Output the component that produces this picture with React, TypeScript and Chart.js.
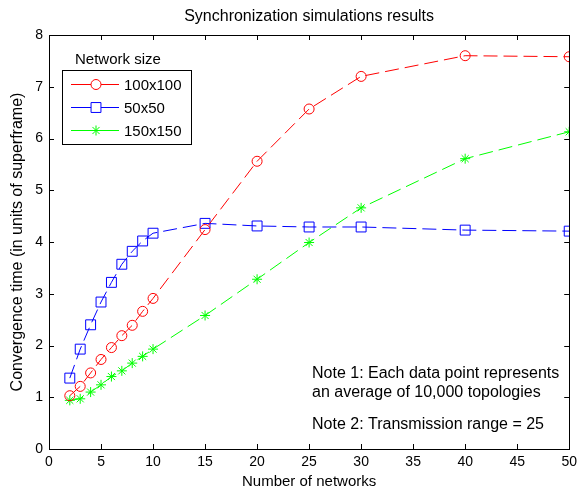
import React, { useEffect, useRef } from "react";
import { Chart, registerables } from "chart.js";

Chart.register(...registerables);

const titleText = "Synchronization simulations results";
const xTitle = "Number of networks";
const yTitle = "Convergence time (in units of superframe)";
const legendTitle = "Network size";
const note1Lines = ["Note 1: Each data point represents", "an average of 10,000 topologies"];
const note2Lines = ["Note 2: Transmission range = 25"];

const networks = [2, 3, 4, 5, 6, 7, 8, 9, 10, 15, 20, 25, 30, 40, 50];
const series100 = [1.03, 1.21, 1.47, 1.73, 1.96, 2.19, 2.39, 2.66, 2.91, 4.24, 5.56, 6.57, 7.2, 7.6, 7.58];
const series50 = [1.37, 1.93, 2.4, 2.84, 3.22, 3.57, 3.82, 4.02, 4.17, 4.36, 4.31, 4.29, 4.29, 4.23, 4.21];
const series150 = [0.94, 0.97, 1.1, 1.24, 1.4, 1.51, 1.66, 1.79, 1.93, 2.58, 3.28, 3.99, 4.66, 5.61, 6.13];
const seriesLabels = ["100x100", "50x50", "150x150"];
const seriesColors = ["#ff0000", "#0000ff", "#00ff00"];
const seriesMarkers = ["circle", "rect", "star"];

const FONT = "'Liberation Sans', Arial, sans-serif";

function drawMarker(ctx: any, style: string, x: number, y: number, r: number, color: string) {
  ctx.save();
  ctx.strokeStyle = color;
  ctx.lineWidth = 1;
  ctx.beginPath();
  if (style === "circle") {
    ctx.arc(x, y, r, 0, Math.PI * 2);
    ctx.fillStyle = "#fff";
    ctx.fill();
    ctx.stroke();
  } else if (style === "rect") {
    const s = Math.SQRT1_2 * r;
    ctx.rect(x - s, y - s, 2 * s, 2 * s);
    ctx.fillStyle = "#fff";
    ctx.fill();
    ctx.stroke();
  } else {
    ctx.moveTo(x - r, y);
    ctx.lineTo(x + r, y);
    ctx.moveTo(x, y - r);
    ctx.lineTo(x, y + r);
    const d = r * Math.SQRT1_2;
    ctx.moveTo(x - d, y - d);
    ctx.lineTo(x + d, y + d);
    ctx.moveTo(x - d, y + d);
    ctx.lineTo(x + d, y - d);
    ctx.stroke();
  }
  ctx.restore();
}

const framePlugin = {
  id: "matlabFrame",
  afterDraw(chart: any) {
    const { ctx, chartArea } = chart;
    const { left, right, top, bottom } = chartArea;
    const xs = chart.scales.x;
    const ys = chart.scales.y;
    ctx.save();
    ctx.strokeStyle = "#000";
    ctx.lineWidth = 1;
    ctx.strokeRect(Math.round(left) + 0.5, Math.round(top) + 0.5, Math.round(right - left), Math.round(bottom - top));
    const tl = 5;
    ctx.beginPath();
    xs.ticks.forEach((t: any) => {
      const px = Math.round(xs.getPixelForValue(t.value)) + 0.5;
      ctx.moveTo(px, bottom);
      ctx.lineTo(px, bottom - tl);
      ctx.moveTo(px, top);
      ctx.lineTo(px, top + tl);
    });
    ys.ticks.forEach((t: any) => {
      const py = Math.round(ys.getPixelForValue(t.value)) + 0.5;
      ctx.moveTo(left, py);
      ctx.lineTo(left + tl, py);
      ctx.moveTo(right, py);
      ctx.lineTo(right - tl, py);
    });
    ctx.stroke();

    // title
    ctx.fillStyle = "#000";
    ctx.font = `16px ${FONT}`;
    ctx.textAlign = "center";
    ctx.textBaseline = "middle";
    ctx.fillText(titleText, (left + right) / 2, 17);

    // legend
    const lx = left + 13;
    const ly = top + 35;
    const lw = 129;
    const lh = 74;
    ctx.font = `15px ${FONT}`;
    ctx.textAlign = "left";
    ctx.fillText(legendTitle, lx + 13, ly - 10);
    ctx.fillStyle = "#fff";
    ctx.fillRect(lx, ly, lw, lh);
    ctx.strokeStyle = "#000";
    ctx.strokeRect(lx + 0.5, ly + 0.5, lw, lh);
    chart.data.datasets.forEach((ds: any, i: number) => {
      const ry = Math.round(ly + 13.5 + i * 23) + 0.5;
      ctx.strokeStyle = ds.borderColor;
      ctx.lineWidth = 1;
      ctx.setLineDash([]);
      ctx.beginPath();
      ctx.moveTo(lx + 9, ry);
      ctx.lineTo(lx + 57, ry);
      ctx.stroke();
      drawMarker(ctx, ds.pointStyle, lx + 34, ry, ds.pointRadius, ds.borderColor);
      ctx.fillStyle = "#000";
      ctx.font = `15px ${FONT}`;
      ctx.textBaseline = "middle";
      ctx.fillText(ds.label, lx + 62, ry + 1);
    });

    // notes
    ctx.fillStyle = "#000";
    ctx.font = `16px ${FONT}`;
    ctx.textAlign = "left";
    ctx.textBaseline = "middle";
    note1Lines.forEach((n, i) => ctx.fillText(n, 312, 374 + i * 19));
    note2Lines.forEach((n, i) => ctx.fillText(n, 312, 425 + i * 19));
    ctx.restore();
  },
};

export default function App() {
  const ref = useRef<HTMLCanvasElement | null>(null);
  useEffect(() => {
    if (!ref.current) return;
    const allSeries = [series100, series50, series150];
    const radii = [5, 7, 5];
    const chart = new Chart(ref.current, {
      type: "line",
      data: {
        datasets: allSeries.map((s, i) => ({
          label: seriesLabels[i],
          data: networks.map((n, j) => ({ x: n, y: s[j] })),
          borderColor: seriesColors[i],
          backgroundColor: "transparent",
          pointBorderColor: seriesColors[i],
          pointBackgroundColor: i === 2 ? seriesColors[i] : "transparent",
          pointStyle: seriesMarkers[i] as any,
          pointRadius: radii[i],
          pointBorderWidth: 1,
          borderWidth: 1,
          borderDash: [14, 6],
          tension: 0,
          fill: false,
        })),
      },
      options: {
        responsive: false,
        animation: false,
        devicePixelRatio: 1,
        layout: { padding: { top: 35, right: 8, left: 0, bottom: 0 } },
        plugins: {
          legend: { display: false },
          title: { display: false },
          tooltip: { enabled: false },
        },
        scales: {
          x: {
            type: "linear",
            min: 0,
            max: 50,
            ticks: { stepSize: 5, color: "#000", font: { size: 14, family: FONT }, padding: 5, maxRotation: 0 },
            grid: { display: false, drawTicks: false },
            border: { display: false },
            title: { display: true, text: xTitle, color: "#000", font: { size: 15, family: FONT }, padding: { top: 0, bottom: 1 } },
            afterFit: (s: any) => {
              s.height = 43;
            },
          },
          y: {
            type: "linear",
            min: 0,
            max: 8,
            ticks: { stepSize: 1, color: "#000", font: { size: 14, family: FONT }, padding: 6 },
            grid: { display: false, drawTicks: false },
            border: { display: false },
            title: { display: true, text: yTitle, color: "#000", font: { size: 16, family: FONT }, padding: { top: 8, bottom: 0 } },
            afterFit: (s: any) => {
              s.width = 49;
            },
          },
        },
      },
      plugins: [framePlugin],
    });
    return () => chart.destroy();
  }, []);
  return (
    <div style={{ position: "fixed", left: 0, top: 0, width: 582, height: 492, background: "#fff" }}>
      <canvas ref={ref} width={582} height={492} style={{ width: 582, height: 492 }} />
    </div>
  );
}
